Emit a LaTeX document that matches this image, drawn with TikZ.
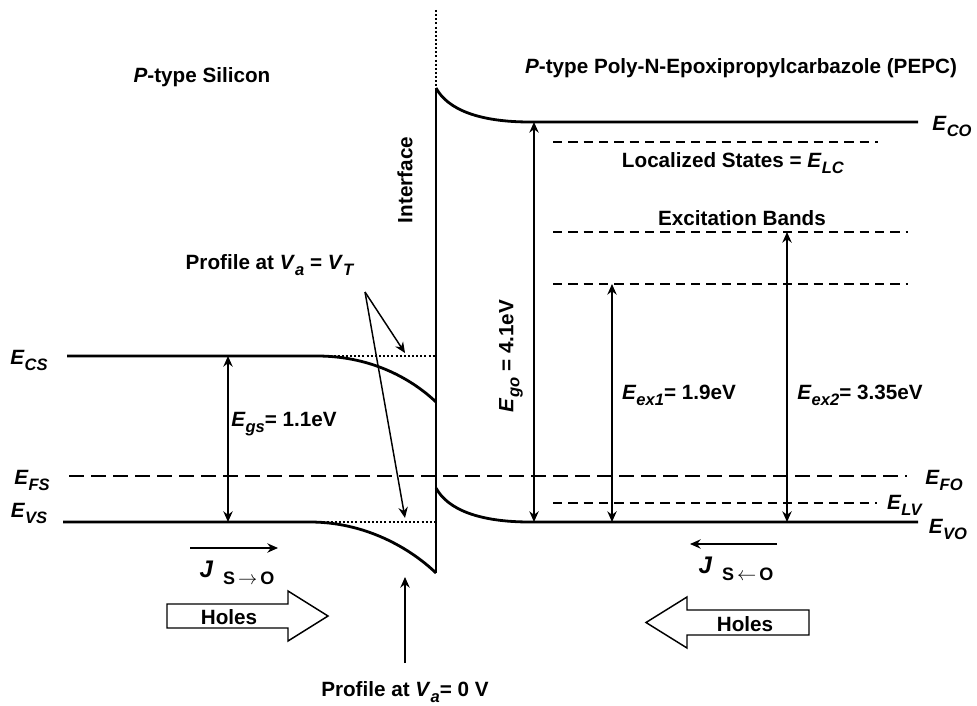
\documentclass[tikz,border=0pt]{standalone}
\usepackage{fontspec}
\setmainfont{Liberation Sans}
\usetikzlibrary{arrows.meta}
\newcommand\Eq[1]{\textit{E}\raisebox{-0.55ex}{\scalebox{0.8}{\textit{#1}}}}
\begin{document}
\begin{tikzpicture}[x=0.75pt,y=-0.75pt,
 lbl/.style={font=\fontsize{15.5}{18}\selectfont\bfseries, inner sep=0pt},
 band/.style={line width=2.1pt},
 fermi/.style={line width=1.8pt, dash pattern=on 11pt off 5.5pt},
 loc/.style={line width=1.5pt, dash pattern=on 7pt off 4.5pt},
 dots/.style={line width=2pt, dash pattern=on 1.5pt off 1.6pt},
 dim/.style={line width=1.1pt, {Stealth[length=8pt,width=7pt]}-{Stealth[length=8pt,width=7pt]}},
 ptr/.style={line width=1.1pt, -{Stealth[length=8pt,width=7pt]}},
 hole/.style={line width=1.1pt}]
\useasboundingbox (0,0) rectangle (977,706);

% coordinates
\coordinate (itop) at (436,10);
\coordinate (ihigh) at (436,88);
\coordinate (ilow) at (436,573);
\coordinate (csL) at (67,356);
\coordinate (csB) at (317,356);
\coordinate (csE) at (436,402);
\coordinate (csD) at (436,356);
\coordinate (vsL) at (63,522);
\coordinate (vsB) at (310,522);
\coordinate (vsD) at (436,522);
\coordinate (coB) at (530,122);
\coordinate (coE) at (918,122);
\coordinate (voS) at (436,488);
\coordinate (voB) at (530,522);
\coordinate (voE) at (918,522);
\coordinate (fL) at (69,476);
\coordinate (fR) at (907,476);

% interface
\draw[dots] (itop) -- (ihigh);
\draw[band] (ihigh) -- (ilow);

% silicon bands
\draw[band] (csL) -- (csB) .. controls (375,356) and (415,382) .. (csE);
\draw[dots] (csB) -- (csD);
\draw[band] (vsL) -- (vsB) .. controls (365,522) and (410,548) .. (ilow);
\draw[dots] (vsB) -- (vsD);

% PEPC bands
\draw[band] (ihigh) .. controls (448,110) and (480,122) .. (coB) -- (coE);
\draw[band] (voS) .. controls (448,510) and (480,522) .. (voB) -- (voE);

% Fermi level
\draw[fermi] (fL) -- (fR);

% localized / excitation levels
\coordinate (l1a) at (553,142); \coordinate (l1b) at (878,142);
\coordinate (l2a) at (553,232); \coordinate (l2b) at (908,232);
\coordinate (l3a) at (553,284); \coordinate (l3b) at (908,284);
\coordinate (l4a) at (553,503); \coordinate (l4b) at (877,503);
\draw[loc] (l1a) -- (l1b);
\draw[loc] (l2a) -- (l2b);
\draw[loc] (l3a) -- (l3b);
\draw[loc] (l4a) -- (l4b);

% dimension arrows
\coordinate (gsT) at (228,356); \coordinate (gsB) at (228,522);
\coordinate (goT) at (534,122); \coordinate (goB) at (534,522);
\coordinate (e1T) at (612,284); \coordinate (e1B) at (612,522);
\coordinate (e2T) at (787,232); \coordinate (e2B) at (787,522);
\draw[dim] (gsT) -- (gsB);
\draw[dim] (goT) -- (goB);
\draw[dim] (e1T) -- (e1B);
\draw[dim] (e2T) -- (e2B);

% labels
\node[lbl] (tsi) at (202,77) {\textit{P}-type Silicon};
\node[lbl] (tpe) at (741,68) {\textit{P}-type Poly-N-Epoxipropylcarbazole (PEPC)};
\node[lbl, rotate=90] (tif) at (405,180) {Interface};
\node[lbl, rotate=90] (tgo) at (511,356) {\Eq{go} = 4.1eV};
\node[lbl] (tloc) at (733,163) {Localized States = \Eq{LC}};
\node[lbl] (texc) at (742,218) {Excitation Bands};
\node[lbl] (tex1) at (679,395) {\Eq{ex1}= 1.9eV};
\node[lbl] (tex2) at (860,395) {\Eq{ex2}= 3.35eV};
\node[lbl] (tgs) at (284,424) {\Eq{gs}= 1.1eV};
\node[lbl] (tco) at (952,126) {\Eq{CO}};
\node[lbl] (tfo) at (944,480) {\Eq{FO}};
\node[lbl] (tlv) at (905,505) {\Eq{LV}};
\node[lbl] (tvo) at (948,529) {\Eq{VO}};
\node[lbl] (tcs) at (29,360) {\Eq{CS}};
\node[lbl] (tfs) at (32,480) {\Eq{FS}};
\node[lbl] (tvs) at (29,513) {\Eq{VS}};

% profile annotations
\node[lbl] (pvt) at (270,265) {Profile at \textit{V}\raisebox{-0.55ex}{\scalebox{0.8}{\textit{a}}} = \textit{V}\raisebox{-0.55ex}{\scalebox{0.8}{\textit{T}}}};
\coordinate (pvtS) at (365,292);
\coordinate (pvt1) at (405,353);
\coordinate (pvt2) at (405,518);
\draw[ptr] (pvtS) -- (pvt1);
\draw[ptr] (pvtS) -- (pvt2);
\node[lbl] (p0) at (405,692) {Profile at \textit{V}\raisebox{-0.55ex}{\scalebox{0.8}{\textit{a}}}= 0 V};
\coordinate (p0S) at (405,663);
\coordinate (p0E) at (405,577);
\draw[ptr] (p0S) -- (p0E);

% currents
\coordinate (jl1) at (190,548); \coordinate (jl2) at (278,548);
\draw[ptr] (jl1) -- (jl2);
\node[lbl] (jl) at (237,573) {\fontsize{18}{20}\selectfont\textit{J}\hspace{0.4em}\raisebox{-0.6ex}{\fontsize{13.5}{15}\selectfont S\,$\rightarrow$\,O}};
\coordinate (jr1) at (777,544); \coordinate (jr2) at (690,544);
\draw[ptr] (jr1) -- (jr2);
\node[lbl] (jr) at (736,569) {\fontsize{18}{20}\selectfont\textit{J}\hspace{0.4em}\raisebox{-0.6ex}{\fontsize{13.5}{15}\selectfont S\,$\leftarrow$\,O}};

% holes arrows
\draw[hole] (167,604) -- (288,604) -- (288,591) -- (328,616) -- (288,641) -- (288,628) -- (167,628) -- cycle;
\node[lbl] (hl) at (229,617) {Holes};
\draw[hole] (809,610) -- (687,610) -- (687,597) -- (646,622.5) -- (687,648) -- (687,635) -- (809,635) -- cycle;
\node[lbl] (hr) at (745,624) {Holes};
\end{tikzpicture}
\end{document}
